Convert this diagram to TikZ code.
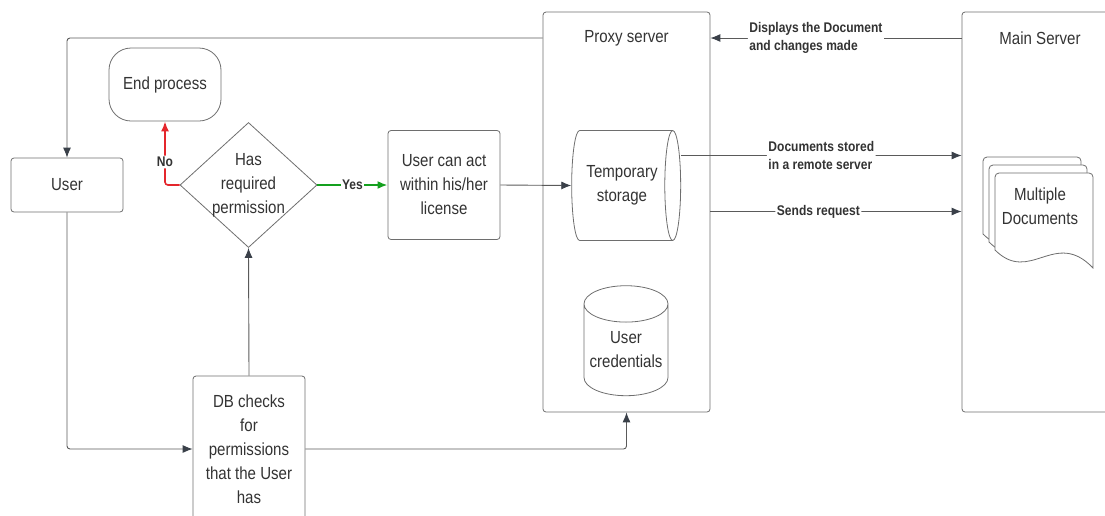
\documentclass[tikz,border=0pt]{standalone}
\usepackage{fontspec}
\setmainfont{Liberation Sans}[FakeStretch=0.86]
\usetikzlibrary{shapes.geometric,arrows.meta,positioning,calc}

\definecolor{txt}{HTML}{333333}
\definecolor{edge}{HTML}{5A5A5A}
\definecolor{border}{HTML}{6E6E6E}
\definecolor{tipgray}{HTML}{3A4049}
\definecolor{yesgreen}{HTML}{14A01E}
\definecolor{nored}{HTML}{E4262C}

\begin{document}
\begin{tikzpicture}[x=1pt, y=-1pt, font=\fontsize{17.5}{24}\selectfont, text=txt,
  box/.style = {draw=border, line width=0.8pt, rounded corners=3pt, align=center, minimum width=112pt, inner sep=2pt},
  endbox/.style = {draw=border, line width=0.8pt, rounded corners=22pt, minimum width=112pt, minimum height=73pt},
  decision/.style = {draw=border, line width=0.8pt, diamond, minimum width=137pt, minimum height=125pt, inner sep=0pt},
  server/.style = {draw=border, line width=0.8pt, rounded corners=3pt, minimum height=400pt},
  storage/.style = {draw=border, line width=0.8pt, cylinder, aspect=0.4, minimum width=110pt, minimum height=109pt, align=center, inner sep=0pt},
  database/.style = {draw=border, line width=0.8pt, cylinder, shape border rotate=90, aspect=0.5, minimum height=110pt, minimum width=84pt, align=center, inner sep=0pt},
  docpage/.style = {draw=border, line width=0.8pt, fill=white},
  flow/.style = {draw=edge, line width=0.9pt, rounded corners=3pt, -{Latex[length=10pt,width=8pt,color=tipgray]}},
  yesflow/.style = {draw=yesgreen, line width=2pt, -{Latex[length=10pt,width=8pt,color=yesgreen]}},
  noflow/.style = {draw=nored, line width=1.6pt, rounded corners=3pt, -{Latex[length=10pt,width=8pt,color=nored]}},
  msg/.style = {fill=white, inner sep=1.5pt, align=left, text=txt, font=\fontsize{14}{18}\selectfont\bfseries},
  lbl/.style = {fill=white, inner sep=1.5pt, text=txt, font=\fontsize{14}{18}\selectfont\bfseries}]
\useasboundingbox (0,0) rectangle (1105,515);

% left part
\node[box, minimum height=54pt] (user) at (67,185) {User};
\node[endbox] (end) at (165,84.5) {End process};
\node[decision] (perm) at (248.5,185) {};
\node[align=center] (permtext) at (perm) {Has\\required\\permission};
\node[box, minimum height=109pt] (act) at (444,185) {User can act\\within his/her\\license};
\node[box, minimum height=146pt] (db) at (249,449) {DB checks\\for\\permissions\\that the User\\has};

% servers
\node[server, minimum width=167pt] (proxy) at (626.5,212) {};
\node (proxytitle) at (626.5,38) {Proxy server};
\node[storage] (tmp) at (622,185.5) {Temporary\\storage};
\node[database] (cred) at (626,350) {User\\credentials};
\node[server, minimum width=170pt] (main) at (1047,212) {};
\node (maintitle) at (1040,38) {Main Server};

% stacked documents
\foreach \dx/\dy in {0/0,6/8,12/16}
  \draw[docpage, shift={(983+\dx,157+\dy)}] (0,77) [rounded corners=4pt] -- (0,0) -- (98,0) [sharp corners] -- (98,95)
    .. controls (60,55) and (35,112) .. (0,77) -- cycle;
\node[align=center] (mdocs) at (1040,206) {Multiple\\Documents};

\coordinate (docout) at ([yshift=30pt]tmp.east);
\coordinate (reqout) at ([yshift=-26pt]tmp.east);

% connectors
\draw[flow] (proxy.west |- proxytitle) -| (user.north);
\draw[flow] (user.south) |- (db.west);
\draw[flow] (db.north) -- (perm.south);
\draw[flow] (db.east) -| (proxy.south);
\draw[yesflow] (perm.east) -- (act.west);
\node[lbl] (yes) at ($(perm.east)!0.5!(act.west)$) {Yes};
\draw[noflow] (perm.west) -| node[lbl, pos=0.68] {No} (end.south);
\draw[flow] (act.east) -- (tmp.west);
\draw[flow] (main.west |- proxytitle) -- node[msg, pos=0.58] {Displays the Document\\and changes made} (proxy.east |- proxytitle);
\draw[flow] (docout) -- node[msg] {Documents stored\\in a remote server} (main.west |- docout);
\draw[flow] (proxy.east |- reqout) -- node[msg, pos=0.43] {Sends request} (main.west |- reqout);
\end{tikzpicture}
\end{document}
